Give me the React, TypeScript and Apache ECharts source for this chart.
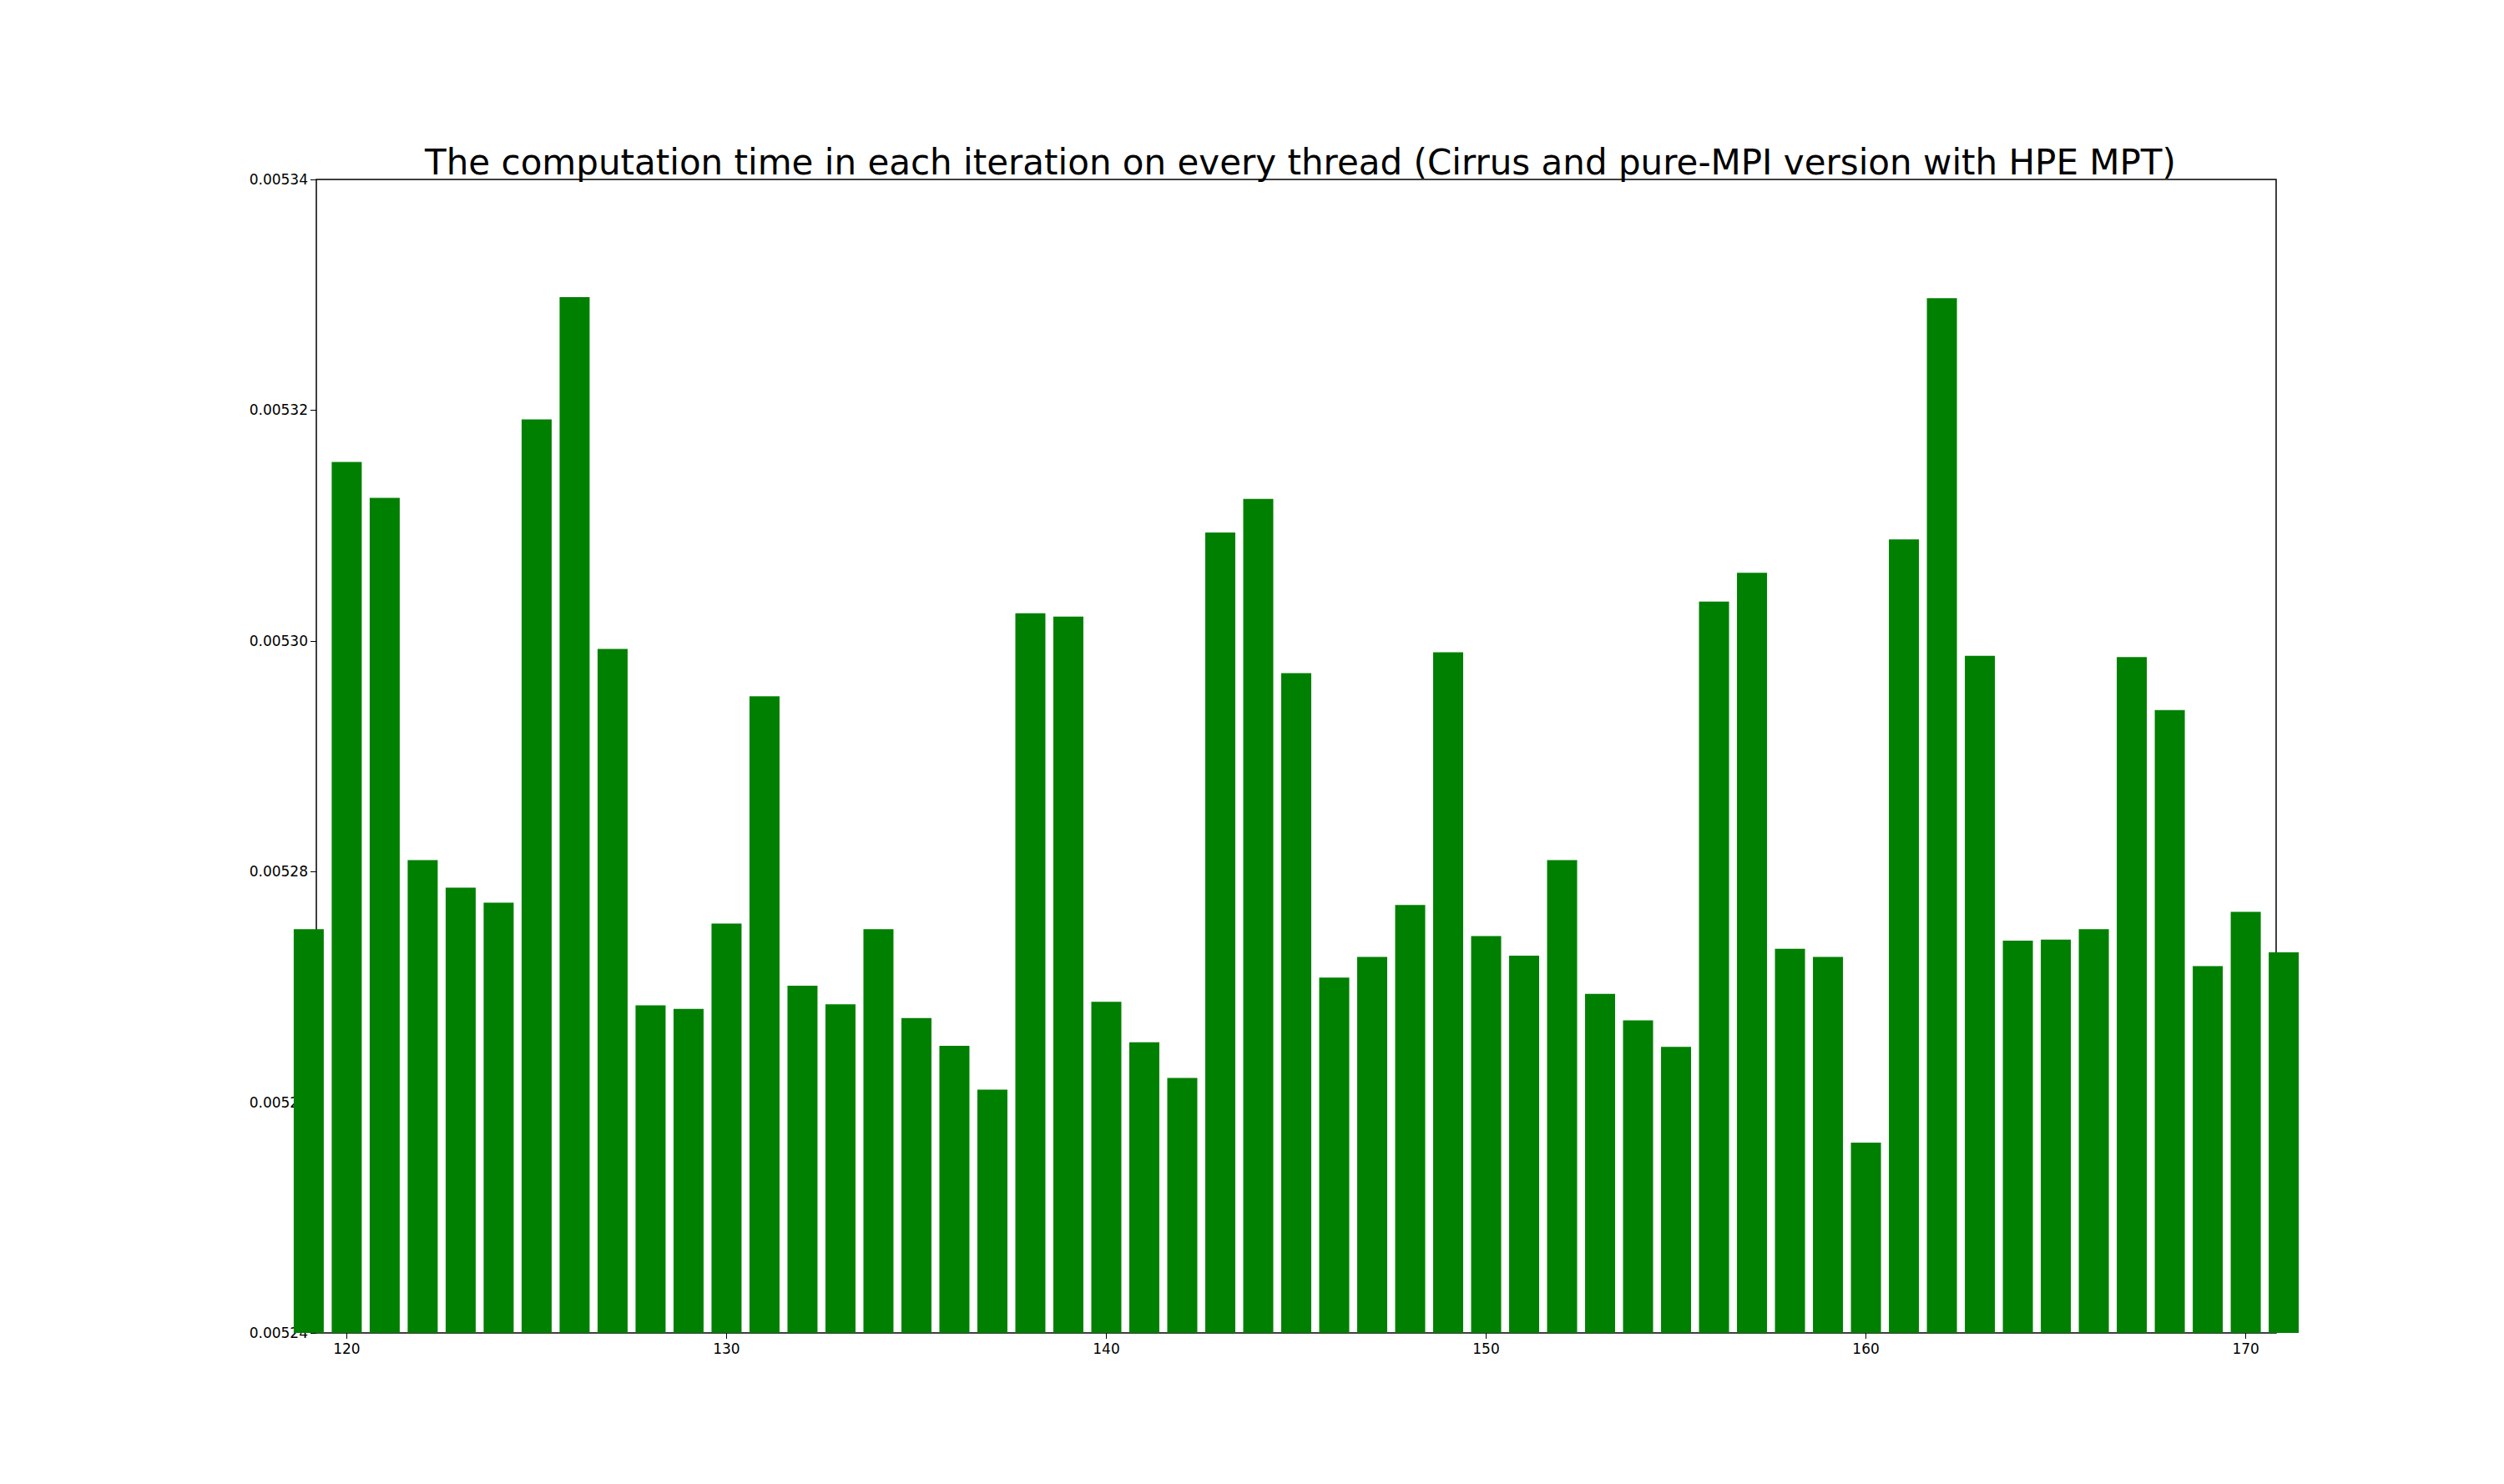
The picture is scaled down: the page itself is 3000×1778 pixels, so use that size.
import * as echarts from "echarts";
import { useEffect, useRef } from "react";

const threads = [
  119, 120, 121, 122, 123, 124, 125, 126, 127, 128, 129, 130, 131, 132, 133, 134, 135, 136, 137, 138,
  139, 140, 141, 142, 143, 144, 145, 146, 147, 148, 149, 150, 151, 152, 153, 154, 155, 156, 157, 158,
  159, 160, 161, 162, 163, 164, 165, 166, 167, 168, 169, 170, 171,
];
const times = [
  0.005275, 0.0053155, 0.0053124, 0.005281, 0.0052786, 0.0052773, 0.0053192, 0.0053298, 0.0052993,
  0.0052684, 0.0052681, 0.0052755, 0.0052952, 0.0052701, 0.0052685, 0.005275, 0.0052673, 0.0052649,
  0.0052611, 0.0053024, 0.0053021, 0.0052687, 0.0052652, 0.0052621, 0.0053094, 0.0053123, 0.0052972,
  0.0052708, 0.0052726, 0.0052771, 0.005299, 0.0052744, 0.0052727, 0.005281, 0.0052694, 0.0052671,
  0.0052648, 0.0053034, 0.0053059, 0.0052733, 0.0052726, 0.0052565, 0.0053088, 0.0053297, 0.0052987,
  0.005274, 0.0052741, 0.005275, 0.0052986, 0.005294, 0.0052718, 0.0052765, 0.005273,
];

export default function App() {
  const chartRef = useRef<HTMLDivElement>(null);
  useEffect(() => {
    const chart = echarts.init(chartRef.current, null, { renderer: "svg" });
    chart.setOption({
      animation: false,
      backgroundColor: "#fff",
      title: {
        text: "The computation time in each iteration on every thread (Cirrus and pure-MPI version with HPE MPT)",
        left: 1553,
        textAlign: "center",
        top: 168,
        textStyle: { fontFamily: "DejaVu Sans", fontWeight: "normal", fontSize: 42, color: "#000" },
      },
      grid: {
        left: 379, right: 273, top: 215, bottom: 181,
        show: true, borderColor: "#000", borderWidth: 1.5, backgroundColor: "transparent",
      },
      xAxis: {
        type: "value",
        min: 119.2,
        max: 170.8,
        splitNumber: 5,
        axisLine: { show: false },
        axisTick: { show: true, length: 7, lineStyle: { color: "#000" } },
        axisLabel: {
          showMinLabel: false, showMaxLabel: false, color: "#000", fontSize: 17,
          fontFamily: "DejaVu Sans", margin: 10,
        },
        splitLine: { show: false },
      },
      yAxis: {
        type: "value",
        min: 0.00524,
        max: 0.00534,
        interval: 0.00002,
        axisLine: { show: false },
        axisTick: { show: true, length: 7, lineStyle: { color: "#000" } },
        axisLabel: {
          color: "#000", fontSize: 17, fontFamily: "DejaVu Sans", margin: 10,
          formatter: (v: number) => v.toFixed(5),
        },
        splitLine: { show: false },
      },
      series: [
        {
          type: "bar",
          data: threads.map((t, i) => [t, times[i]]),
          barWidth: 36,
          itemStyle: { color: "#008000" },
          clip: true,
        },
      ],
    });
    return () => chart.dispose();
  }, []);
  return <div ref={chartRef} style={{ width: 3000, height: 1778, marginLeft: -8, marginTop: -8 }} />;
}
